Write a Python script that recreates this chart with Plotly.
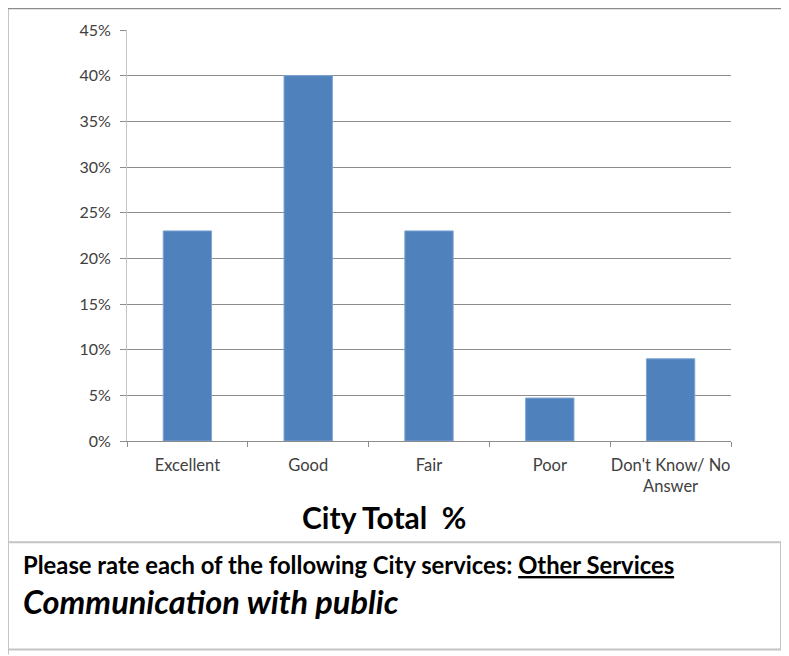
import plotly.graph_objects as go

categories = ["Excellent", "Good", "Fair", "Poor", "Don't Know/ No<br>Answer"]
values = [23, 40, 23, 4.7, 9]
y_ticks = [0, 5, 10, 15, 20, 25, 30, 35, 40, 45]
y_tick_labels = [f"{v}%" for v in y_ticks]

# The page body has a default 8px margin, so the figure is drawn 8px in.
OFF = 8
W, H = 789 - OFF, 656 - OFF
L, R, T, B = 127 - OFF, 731 - OFF, 27 - OFF, 441 - OFF  # plot area (figure px)
pw, ph = R - L, B - T

def px(x):  # x in reference page pixels -> paper coords
    return (x - OFF - L) / pw

def py(y):
    return (B - (y - OFF)) / ph

FONT = "Lato, Carlito, Calibri, 'DejaVu Sans', sans-serif"

fig = go.Figure()
fig.add_trace(go.Bar(
    x=categories, y=values,
    marker=dict(color="#4F81BD", line=dict(color="#7da3d3", width=1)),
    width=0.4,
    hoverinfo="skip",
))

fig.update_layout(
    width=W, height=H,
    margin=dict(l=L, r=W - R, t=T, b=H - B),
    paper_bgcolor="white", plot_bgcolor="white",
    showlegend=False,
    font=dict(family=FONT, color="#404040", size=16),
    xaxis=dict(
        showgrid=False, showline=True, linecolor="#8c8c8c", linewidth=1,
        ticks="outside", tickson="boundaries", ticklen=5, tickcolor="#8c8c8c",
        tickfont=dict(size=16.5, color="#404040"),
        tickangle=0,
        ticklabelstandoff=9,
        fixedrange=True,
    ),
    yaxis=dict(
        range=[0, 45], tickvals=y_ticks, ticktext=y_tick_labels,
        showgrid=True, gridcolor="#8c8c8c", gridwidth=1,
        showline=True, linecolor="#c4c4c4", linewidth=1,
        ticks="outside", ticklen=6, tickcolor="#8c8c8c",
        tickfont=dict(size=16, color="#404040"),
        ticklabelstandoff=6,
        zeroline=False, fixedrange=True,
    ),
    shapes=[
        dict(type="line", xref="paper", yref="paper",
             x0=px(7.5), x1=px(7.5), y0=py(5), y1=py(656), line=dict(color="#8c8c8c", width=2)),
        dict(type="line", xref="paper", yref="paper",
             x0=px(7.5), x1=px(789), y0=py(5), y1=py(5), line=dict(color="#8c8c8c", width=2)),
        dict(type="rect", xref="paper", yref="paper",
             x0=px(8), x1=px(781), y0=py(543), y1=py(651),
             line=dict(color="#c4c4c4", width=2), fillcolor="rgba(0,0,0,0)"),
    ],
    annotations=[
        dict(text="<b>City Total  %</b>", xref="paper", yref="paper",
             x=px(384), y=py(518), xanchor="center", yanchor="middle",
             showarrow=False, font=dict(size=30, color="#000000", family=FONT)),
        dict(text="<b>Please rate each of the following City services: <u>Other Services</u></b>",
             xref="paper", yref="paper", x=px(21), y=py(566), xanchor="left", yanchor="middle",
             showarrow=False, font=dict(size=23.8, color="#000000", family=FONT)),
        dict(text="<b><i>Communication with public</i></b>",
             xref="paper", yref="paper", x=px(21), y=py(603), xanchor="left", yanchor="middle",
             showarrow=False, font=dict(size=32.5, color="#000000", family=FONT)),
    ],
)

fig.write_html("out.html")
